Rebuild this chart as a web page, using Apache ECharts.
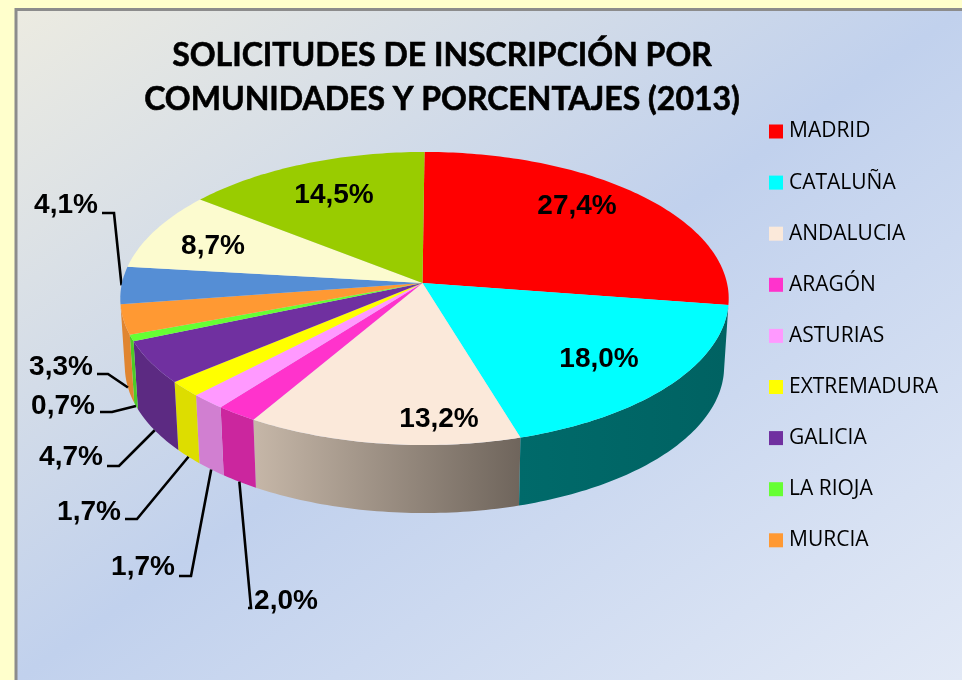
<!DOCTYPE html>
<html><head><meta charset="utf-8">
<style>html,body{margin:0;padding:0;background:#ffffcc}#c{width:962px;height:680px}</style>
<script src="https://cdn.jsdelivr.net/npm/echarts@6/dist/echarts.min.js"></script>
</head><body><div id="c"></div>
<script>
const categories = ['MADRID','CATALUÑA','ANDALUCIA','ARAGÓN','ASTURIAS','EXTREMADURA','GALICIA','LA RIOJA','MURCIA','OTRAS A','OTRAS B','OTRAS C'];
const legendNames = categories.slice(0, 9);
const values = [27.4,18.0,13.2,2.0,1.7,1.7,4.7,0.7,3.3,4.1,8.7,14.5];
const topColors = ['#ff0000','#00ffff','#fbe9da','#ff33cc','#ff99ff','#ffff00','#7030a0','#66ff33','#ff9933','#558ed5','#fcfbcf','#99cc00'];
const wallColors = [null,['#006a6a','#006262'],['#c6b7a8','#6f655c'],['#cb269e','#cb269e'],['#d17fd1','#d17fd1'],['#dddd00','#dddd00'],['#5c2a82','#5c2a82'],['#4dcc26','#4dcc26'],['#e08530','#e08530'],null,null,null];

// style / layout settings of the drawing
const pie = {cx:424.5, apexX:422.5, cy:283, a:302.5, b:144.9, persp:0.1058, depth:68, shrink:0.985};
const insideLabels = {0:[577,206],1:[599,359],2:[439,419],10:[213,246],11:[334,195]};
const outsideLabels = {
  9:{text:[66,205],path:[[102,213],[114,213]],h:0},
  8:{text:[61,367],path:[[97,374],[108,374]],h:1},
  7:{text:[63,406],path:[[100,412],[112,412]],h:1},
  6:{text:[71,457],path:[[107,466],[119,466]],h:1},
  5:{text:[89,512],path:[[125,519],[137,519]],h:1},
  4:{text:[143,567],path:[[179,576],[191,576]],h:1},
  3:{text:[286,601],path:[[248,608],[251,608]],h:1}
};

const total = values.reduce((s,v)=>s+v,0);
let run = 0;
const ranges = values.map(v=>{const r=[run,run+v];run+=v;return r;});

function project(t,h){
  const u=Math.sin(t), v=-Math.cos(t), w=1/(1-pie.persp*v);
  const k=1-(1-pie.shrink)*h;
  return [pie.cx+pie.a*u*w*k, pie.cy+pie.b*v*w+pie.depth*h];
}
function arc(t0,t1,h){
  const n=Math.max(2,Math.ceil(Math.abs(t1-t0)*180/Math.PI)), pts=[];
  for(let i=0;i<=n;i++) pts.push(project(t0+(t1-t0)*i/n,h));
  return pts;
}
const fmt = v => v.toFixed(1).replace('.',',')+'%';

function renderSlice(i){
  return function(params,api){
    const val=api.value(0), start=ranges[i][0]/total*2*Math.PI, end=(ranges[i][0]+val)/total*2*Math.PI;
    const mid=(start+end)/2, kids=[];
    if(wallColors[i]){
      kids.push({type:'polygon',z2:10+Math.round(100*(1-Math.abs(Math.cos(mid)))),silent:true,
        shape:{points:arc(start,end,0).concat(arc(end,start,1))},
        style:{fill:new echarts.graphic.LinearGradient(0,0,1,0,[{offset:0,color:wallColors[i][0]},{offset:1,color:wallColors[i][1]}])}});
    }
    kids.push({type:'polygon',z2:150,silent:true,shape:{points:[[pie.apexX,pie.cy]].concat(arc(start,end,0))},style:{fill:topColors[i]}});
    const font='bold 28px "Liberation Sans", Arial, sans-serif';
    const lab=insideLabels[i];
    if(lab) kids.push({type:'text',z2:300,silent:true,style:{text:fmt(val),x:lab[0],y:lab[1],font,fill:'#000',align:'center',verticalAlign:'middle'}});
    const out=outsideLabels[i];
    if(out){
      kids.push({type:'polyline',z2:120,silent:true,shape:{points:out.path.concat([project(mid,out.h)])},style:{stroke:'#000',lineWidth:2.6,fill:null}});
      kids.push({type:'text',z2:300,silent:true,style:{text:fmt(val),x:out.text[0],y:out.text[1],font,fill:'#000',align:'center',verticalAlign:'middle'}});
    }
    return {type:'group',children:kids};
  };
}

const chart=echarts.init(document.getElementById('c'),null,{renderer:'canvas'});
chart.setOption({
  animation:false,
  backgroundColor:'#ffffcc',
  title:{text:'SOLICITUDES DE INSCRIPCIÓN POR\nCOMUNIDADES Y PORCENTAJES (2013)',left:437,top:29,textAlign:'center',
    textStyle:{fontFamily:'Lato',fontWeight:'bold',fontSize:32,lineHeight:44,color:'#000',textBorderColor:'#000',textBorderWidth:0.6}},
  legend:{data:legendNames,orient:'vertical',left:769,top:121,itemWidth:14,itemHeight:14,itemGap:30.1,selectedMode:false,icon:'rect',align:'left',padding:0,
    textStyle:{fontFamily:'"Open Sans"',fontSize:21,color:'#000',padding:[0,0,0,1],lineHeight:20}},
  graphic:[{type:'rect',z:-1,silent:true,shape:{x:16,y:9.5,width:960,height:690},
    style:{fill:new echarts.graphic.LinearGradient(173,-101,805,791,[{offset:0,color:'#ecebe1'},{offset:0.5,color:'#c1d1ed'},{offset:1,color:'#e2e9f6'}],true),stroke:'#8c8c8c',lineWidth:3}}],
  series:categories.map((name,i)=>({type:'custom',name,coordinateSystem:'none',silent:true,
    itemStyle:{color:topColors[i]},data:[[values[i]]],renderItem:renderSlice(i)}))
});
</script></body></html>
